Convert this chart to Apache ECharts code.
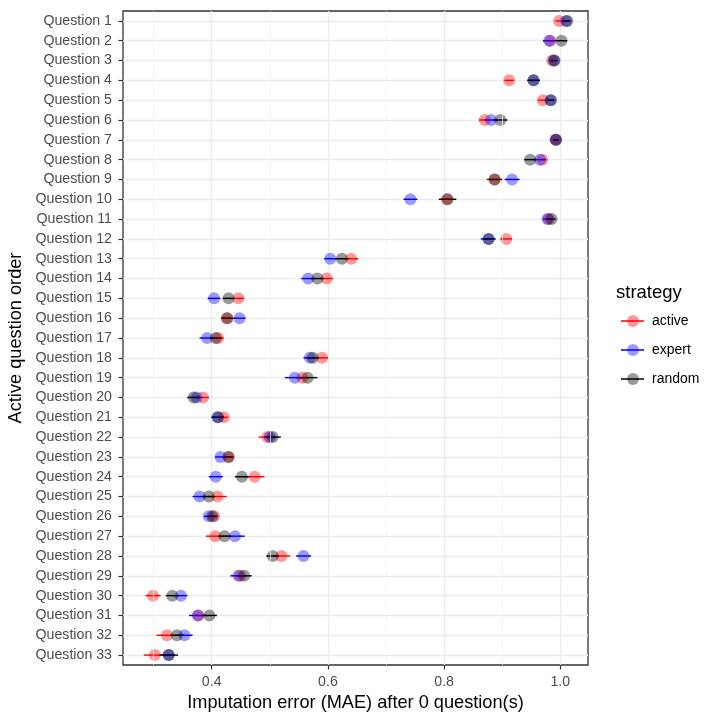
<!DOCTYPE html>
<html>
<head>
<meta charset="utf-8">
<title>Imputation error by question</title>
<script src="https://cdn.jsdelivr.net/npm/echarts@6.0.0/dist/echarts.min.js"></script>
<style>
    html, body { margin: 0; padding: 0; background: #fff; }
    #chart { width: 720px; height: 720px; }
</style>
</head>
<body>
<div id="chart"></div>
<script>
var questions = [];
for (var q = 1; q <= 33; q++) {
    questions.push('Question ' + q);
}

var strategies = ['active', 'expert', 'random'];
var colors = ['#FF0000', '#0000FF', '#000000'];
var pointColors = ['rgba(255,0,0,0.5)', 'rgba(0,0,255,0.5)', 'rgba(0,0,0,0.5)'];

var majorTicks = [0.4, 0.6, 0.8, 1.0];
var minorTicks = [0.3, 0.5, 0.7, 0.9];

// mean MAE per question
var activeMean = [0.998, 0.983, 0.986, 0.912, 0.970, 0.870, 0.992, 0.969, 0.887, 0.805, 0.980,
    0.907, 0.640, 0.598, 0.446, 0.426, 0.411, 0.590, 0.556, 0.385, 0.421, 0.496,
    0.429, 0.474, 0.410, 0.404, 0.406, 0.520, 0.449, 0.299, 0.377, 0.323, 0.302];
var expertMean = [1.010, 0.981, 0.989, 0.954, 0.983, 0.881, 0.992, 0.965, 0.917, 0.742, 0.978,
    0.876, 0.604, 0.566, 0.404, 0.448, 0.392, 0.569, 0.543, 0.374, 0.410, 0.500,
    0.415, 0.407, 0.379, 0.395, 0.440, 0.558, 0.446, 0.347, 0.376, 0.353, 0.326];
var randomMean = [1.012, 1.002, 0.990, 0.954, 0.984, 0.897, 0.993, 0.948, 0.887, 0.806, 0.985,
    0.877, 0.624, 0.582, 0.429, 0.427, 0.407, 0.574, 0.565, 0.369, 0.411, 0.505,
    0.429, 0.452, 0.395, 0.401, 0.422, 0.505, 0.456, 0.332, 0.396, 0.340, 0.326];

// half width of the horizontal range bars
var activeErr = [0.006, 0.006, 0.005, 0.008, 0.008, 0.010, 0.004, 0.006, 0.008, 0.010, 0.005,
    0.010, 0.012, 0.011, 0.009, 0.008, 0.009, 0.010, 0.010, 0.010, 0.007, 0.015,
    0.008, 0.017, 0.016, 0.007, 0.016, 0.015, 0.008, 0.013, 0.008, 0.018, 0.019];
var expertErr = [0.006, 0.011, 0.005, 0.008, 0.006, 0.011, 0.004, 0.011, 0.013, 0.012, 0.008,
    0.013, 0.010, 0.012, 0.011, 0.010, 0.013, 0.011, 0.017, 0.008, 0.011, 0.008,
    0.009, 0.012, 0.012, 0.008, 0.017, 0.013, 0.014, 0.011, 0.015, 0.014, 0.010];
var randomErr = [0.006, 0.010, 0.006, 0.011, 0.006, 0.012, 0.004, 0.010, 0.013, 0.015, 0.007,
    0.010, 0.012, 0.011, 0.010, 0.011, 0.010, 0.011, 0.017, 0.011, 0.010, 0.014,
    0.008, 0.012, 0.011, 0.008, 0.011, 0.011, 0.013, 0.011, 0.013, 0.012, 0.016];

var means = [activeMean, expertMean, randomMean];
var errs = [activeErr, expertErr, randomErr];

var fontFamily = '"Liberation Sans", Arial, Helvetica, sans-serif';
var xMin = 0.2473;
var xMax = 1.0477;

function rangeData(mean, err) {
    var data = [];
    for (var i = 0; i < mean.length; i++) {
        data.push([mean[i] - err[i], mean[i] + err[i], i]);
    }
    return data;
}

function pointData(mean) {
    var data = [];
    for (var i = 0; i < mean.length; i++) {
        data.push([mean[i], i]);
    }
    return data;
}

function renderRange(params, api) {
    var start = api.coord([api.value(0), api.value(2)]);
    var end = api.coord([api.value(1), api.value(2)]);
    return {
        type: 'line',
        shape: { x1: start[0], y1: start[1], x2: end[0], y2: end[1] },
        style: { stroke: api.visual('color'), lineWidth: 1.4 }
    };
}

// minor vertical grid lines, kept under everything else
var series = [{
    name: 'minor_grid',
    type: 'scatter',
    z: 1,
    silent: true,
    data: [],
    markLine: {
        silent: true,
        animation: false,
        symbol: ['none', 'none'],
        label: { show: false },
        emphasis: { disabled: true },
        lineStyle: { color: '#F2F2F2', width: 0.7, type: 'solid' },
        data: minorTicks.map(function (v) { return { xAxis: v }; })
    }
}];
strategies.forEach(function (name, k) {
    series.push({
        name: name + '_range',
        type: 'custom',
        z: 2,
        renderItem: renderRange,
        itemStyle: { color: colors[k] },
        encode: { x: [0, 1], y: 2 },
        data: rangeData(means[k], errs[k])
    });
});
strategies.forEach(function (name, k) {
    series.push({
        name: name,
        type: 'scatter',
        z: 3,
        symbol: 'circle',
        symbolSize: 12,
        itemStyle: { color: pointColors[k] },
        data: pointData(means[k])
    });
});

var chart = echarts.init(document.getElementById('chart'));
var option = {
    animation: false,
    backgroundColor: '#fff',
    textStyle: { fontFamily: fontFamily },
    title: {
        text: 'strategy',
        left: 616,
        top: 283,
        padding: 0,
        textStyle: { fontSize: 18.5, fontWeight: 'normal', color: '#000', fontFamily: fontFamily }
    },
    legend: [{
        data: strategies.map(function (s) { return s + '_range'; }),
        orient: 'vertical',
        left: 621,
        top: 314,
        padding: 0,
        itemGap: 15,
        itemWidth: 23,
        itemHeight: 1.5,
        icon: 'rect',
        z: 4,
        selectedMode: false,
        formatter: function (name) { return name.replace('_range', ''); },
        textStyle: { fontSize: 14, color: 'rgba(0,0,0,0)', fontFamily: fontFamily }
    }, {
        data: strategies,
        orient: 'vertical',
        left: 627,
        top: 314,
        padding: 0,
        itemGap: 15,
        itemWidth: 12,
        itemHeight: 12,
        icon: 'circle',
        z: 5,
        selectedMode: false,
        textStyle: { fontSize: 14, color: '#000', fontFamily: fontFamily, padding: [0, 0, 0, 8] }
    }],
    grid: {
        left: 123,
        right: 132,
        top: 11,
        bottom: 55,
        outerBoundsMode: 'none',
        containLabel: false,
        show: true,
        backgroundColor: '#fff',
        borderColor: '#333333',
        borderWidth: 1.3
    },
    xAxis: {
        type: 'value',
        min: xMin,
        max: xMax,
        position: 'bottom',
        name: 'Imputation error (MAE) after 0 question(s)',
        nameLocation: 'middle',
        nameGap: 28,
        nameTextStyle: { fontSize: 18.2, color: '#000', fontFamily: fontFamily },
        axisLine: { show: false },
        axisTick: {
            show: true,
            length: 4.5,
            customValues: majorTicks,
            lineStyle: { color: '#333333', width: 1.2 }
        },
        axisLabel: {
            customValues: majorTicks,
            margin: 10,
            fontSize: 14.2,
            color: '#4D4D4D',
            formatter: function (v) { return v.toFixed(1); }
        },
        splitLine: { show: true, lineStyle: { color: '#EBEBEB', width: 1.3 } }
    },
    yAxis: {
        type: 'category',
        data: questions,
        inverse: true,
        name: 'Active question order',
        nameLocation: 'middle',
        nameGap: 87,
        nameTextStyle: { fontSize: 18.2, color: '#000', fontFamily: fontFamily },
        axisLine: { show: false },
        axisTick: {
            show: true,
            alignWithLabel: true,
            length: 4.5,
            lineStyle: { color: '#333333', width: 1.2 }
        },
        axisLabel: { fontSize: 14.2, color: '#4D4D4D', margin: 11, interval: 0 },
        splitLine: {
            show: true,
            alignWithLabel: true,
            interval: 0,
            lineStyle: { color: '#EBEBEB', width: 1.3 }
        }
    },
    series: series
};
chart.setOption(option);
</script>
</body>
</html>
